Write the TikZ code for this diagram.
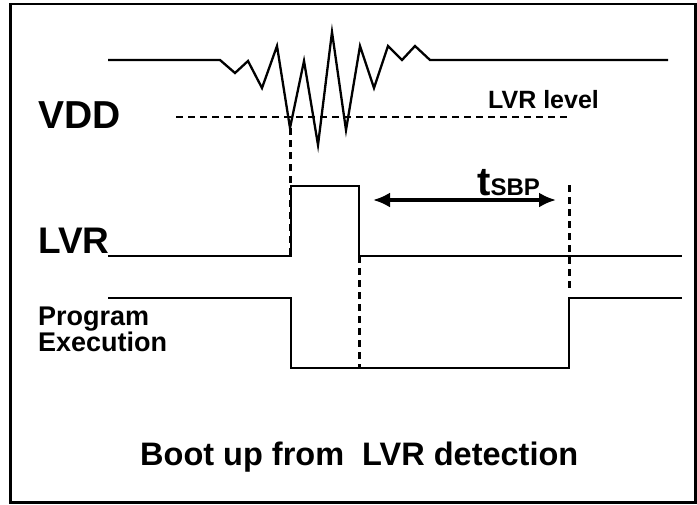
\documentclass[tikz,border=0pt]{standalone}
\usepackage{fontspec}
\setmainfont{Liberation Sans}
\usetikzlibrary{arrows.meta}
\tikzset{
  wave/.style={line width=2.3pt,line join=miter},
  marker/.style={line width=3pt,dash pattern=on 7pt off 5pt},
  levelline/.style={line width=2.3pt,dash pattern=on 7pt off 5pt},
  siglabel/.style={anchor=base west,inner sep=0pt,font=\bfseries},
  spanarrow/.style={{Latex[length=17pt,width=15pt]}-{Latex[length=17pt,width=15pt]},line width=3.2pt}
}

\begin{document}
\begin{tikzpicture}[x=1pt,y=-1pt]
  \useasboundingbox (0,0) rectangle (697,504);
  \draw[line width=2.2pt] (10.5,4) rectangle (695.5,502.5);

  % VDD with noise and LVR level
  \node[siglabel,font=\bfseries\fontsize{39}{39}\selectfont] (vdd) at (38,128) {VDD};
  \draw[wave] (108,60) -- (220,60) -- (235,73) -- (248,61) -- (262,88) -- (277,46)
    -- (290,128) coordinate (dip) -- (304,61) -- (318,145) -- (332,32) -- (346,130)
    -- (360,46) -- (374,88) -- (388,46) -- (402,60) -- (415,46) -- (430,60) -- (668,60);
  \draw[levelline] (176,117) -- (568,117);
  \node[siglabel,font=\bfseries\fontsize{25}{25}\selectfont] (level) at (488,108) {LVR level};

  % LVR pulse
  \node[siglabel,font=\bfseries\fontsize{37}{37}\selectfont] (lvr) at (38,253) {LVR};
  \draw[wave] (108,256) -- (291,256) coordinate (lvrup) -- (291,186) -- (359,186)
    -- (359,256) coordinate (lvrdown) -- (682,256);

  % Program execution
  \node[siglabel,font=\bfseries\fontsize{27}{27}\selectfont] (prog) at (38,325) {Program};
  \node[siglabel,font=\bfseries\fontsize{27}{27}\selectfont] (exec) at (38,351) {Execution};
  \draw[wave] (108,298) -- (291,298) -- (291,368) -- (359,368) coordinate (progstop)
    -- (569,368) -- (569,298) -- (682,298);

  % markers and t_SBP
  \coordinate (restart) at (569,185);
  \coordinate (restartend) at (569,288);
  \draw[marker] (dip) -- (lvrup -| dip);
  \draw[marker] (lvrdown) -- (progstop);
  \draw[marker] (restart) -- (restartend);
  \coordinate (sbpa) at (373,200);
  \coordinate (sbpb) at (556,200);
  \draw[spanarrow] (sbpa) -- (sbpb);
  \node[siglabel,font=\bfseries\fontsize{40}{40}\selectfont] (tsbp) at (477,195)
    {t\fontsize{24}{24}\selectfont SBP};

  % title
  \node[siglabel,font=\bfseries\fontsize{32.5}{32.5}\selectfont] (title) at (140,465)
    {Boot up from\ \ LVR detection};
\end{tikzpicture}
\end{document}
